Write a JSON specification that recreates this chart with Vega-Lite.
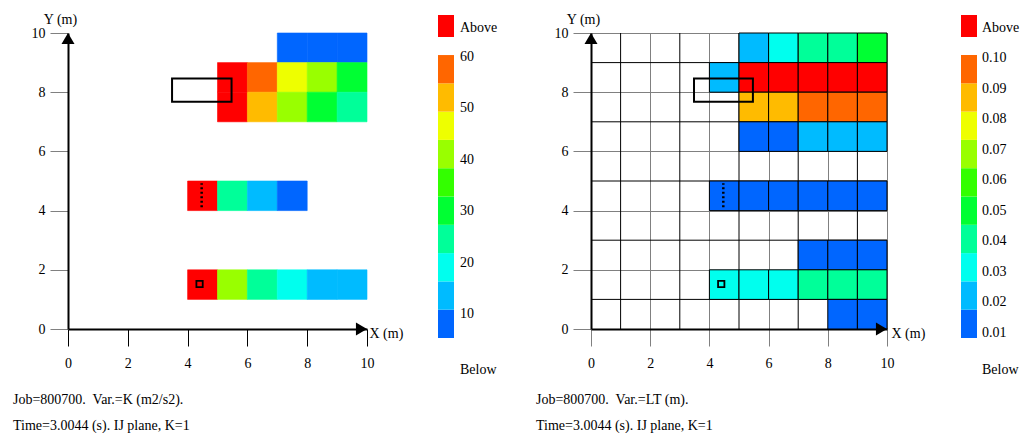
{
  "$schema": "https://vega.github.io/schema/vega-lite/v6.json",
  "padding": {"left": 13, "top": 12, "right": 0, "bottom": 0},
  "bounds": "flush",
  "spacing": 71,
  "resolve": {"scale": {"x": "independent", "y": "independent", "color": "independent", "stroke": "independent", "shape": "independent"}},
  "config": {
    "view": {"stroke": null},
    "font": "Liberation Serif",
    "axis": {"labelFont": "Liberation Serif", "labelFontSize": 14, "labelColor": "black", "titleFont": "Liberation Serif", "titleFontSize": 14, "titleFontWeight": "normal", "titleColor": "black", "labelFlush": false, "domainColor": "black", "domainWidth": 2, "grid": false, "zindex": 1, "titleAngle": 0},
    "text": {"font": "Liberation Serif", "fontSize": 14, "color": "black"},
    "title": {"font": "Liberation Serif", "fontSize": 14, "fontWeight": "normal", "color": "black"}
  },
  "datasets": {
    "cellsK": [
      {"x0": 7, "x1": 8, "y0": 9, "y1": 10, "v": 8.6},
      {"x0": 8, "x1": 9, "y0": 9, "y1": 10, "v": 7.9},
      {"x0": 9, "x1": 10, "y0": 9, "y1": 10, "v": 8.3},
      {"x0": 5, "x1": 6, "y0": 8, "y1": 9, "v": 71.2},
      {"x0": 6, "x1": 7, "y0": 8, "y1": 9, "v": 57.9},
      {"x0": 7, "x1": 8, "y0": 8, "y1": 9, "v": 47.1},
      {"x0": 8, "x1": 9, "y0": 8, "y1": 9, "v": 41.5},
      {"x0": 9, "x1": 10, "y0": 8, "y1": 9, "v": 29.6},
      {"x0": 5, "x1": 6, "y0": 7, "y1": 8, "v": 68.4},
      {"x0": 6, "x1": 7, "y0": 7, "y1": 8, "v": 52.6},
      {"x0": 7, "x1": 8, "y0": 7, "y1": 8, "v": 40.8},
      {"x0": 8, "x1": 9, "y0": 7, "y1": 8, "v": 30.4},
      {"x0": 9, "x1": 10, "y0": 7, "y1": 8, "v": 24.9},
      {"x0": 4, "x1": 5, "y0": 4, "y1": 5, "v": 66.0},
      {"x0": 5, "x1": 6, "y0": 4, "y1": 5, "v": 25.1},
      {"x0": 6, "x1": 7, "y0": 4, "y1": 5, "v": 13.9},
      {"x0": 7, "x1": 8, "y0": 4, "y1": 5, "v": 8.4},
      {"x0": 4, "x1": 5, "y0": 1, "y1": 2, "v": 64.5},
      {"x0": 5, "x1": 6, "y0": 1, "y1": 2, "v": 41.0},
      {"x0": 6, "x1": 7, "y0": 1, "y1": 2, "v": 24.2},
      {"x0": 7, "x1": 8, "y0": 1, "y1": 2, "v": 19.0},
      {"x0": 8, "x1": 9, "y0": 1, "y1": 2, "v": 14.1},
      {"x0": 9, "x1": 10, "y0": 1, "y1": 2, "v": 13.2}
    ],
    "cellsL": [
      {"x0": 5, "x1": 6, "y0": 9, "y1": 10, "v": 0.022},
      {"x0": 6, "x1": 7, "y0": 9, "y1": 10, "v": 0.032},
      {"x0": 7, "x1": 8, "y0": 9, "y1": 10, "v": 0.040},
      {"x0": 8, "x1": 9, "y0": 9, "y1": 10, "v": 0.042},
      {"x0": 9, "x1": 10, "y0": 9, "y1": 10, "v": 0.050},
      {"x0": 4, "x1": 5, "y0": 8, "y1": 9, "v": 0.021},
      {"x0": 5, "x1": 6, "y0": 8, "y1": 9, "v": 0.118},
      {"x0": 6, "x1": 7, "y0": 8, "y1": 9, "v": 0.121},
      {"x0": 7, "x1": 8, "y0": 8, "y1": 9, "v": 0.116},
      {"x0": 8, "x1": 9, "y0": 8, "y1": 9, "v": 0.113},
      {"x0": 9, "x1": 10, "y0": 8, "y1": 9, "v": 0.110},
      {"x0": 5, "x1": 6, "y0": 7, "y1": 8, "v": 0.088},
      {"x0": 6, "x1": 7, "y0": 7, "y1": 8, "v": 0.086},
      {"x0": 7, "x1": 8, "y0": 7, "y1": 8, "v": 0.097},
      {"x0": 8, "x1": 9, "y0": 7, "y1": 8, "v": 0.095},
      {"x0": 9, "x1": 10, "y0": 7, "y1": 8, "v": 0.094},
      {"x0": 5, "x1": 6, "y0": 6, "y1": 7, "v": 0.013},
      {"x0": 6, "x1": 7, "y0": 6, "y1": 7, "v": 0.014},
      {"x0": 7, "x1": 8, "y0": 6, "y1": 7, "v": 0.022},
      {"x0": 8, "x1": 9, "y0": 6, "y1": 7, "v": 0.023},
      {"x0": 9, "x1": 10, "y0": 6, "y1": 7, "v": 0.021},
      {"x0": 4, "x1": 5, "y0": 4, "y1": 5, "v": 0.012},
      {"x0": 5, "x1": 6, "y0": 4, "y1": 5, "v": 0.013},
      {"x0": 6, "x1": 7, "y0": 4, "y1": 5, "v": 0.012},
      {"x0": 7, "x1": 8, "y0": 4, "y1": 5, "v": 0.014},
      {"x0": 8, "x1": 9, "y0": 4, "y1": 5, "v": 0.013},
      {"x0": 9, "x1": 10, "y0": 4, "y1": 5, "v": 0.012},
      {"x0": 7, "x1": 8, "y0": 2, "y1": 3, "v": 0.014},
      {"x0": 8, "x1": 9, "y0": 2, "y1": 3, "v": 0.013},
      {"x0": 9, "x1": 10, "y0": 2, "y1": 3, "v": 0.012},
      {"x0": 4, "x1": 5, "y0": 1, "y1": 2, "v": 0.031},
      {"x0": 5, "x1": 6, "y0": 1, "y1": 2, "v": 0.030},
      {"x0": 6, "x1": 7, "y0": 1, "y1": 2, "v": 0.032},
      {"x0": 7, "x1": 8, "y0": 1, "y1": 2, "v": 0.041},
      {"x0": 8, "x1": 9, "y0": 1, "y1": 2, "v": 0.040},
      {"x0": 9, "x1": 10, "y0": 1, "y1": 2, "v": 0.042},
      {"x0": 8, "x1": 9, "y0": 0, "y1": 1, "v": 0.013},
      {"x0": 9, "x1": 10, "y0": 0, "y1": 1, "v": 0.012}
    ],
    "legK": [
      {"lo": 5.33, "hi": 10.84}, {"lo": 10.84, "hi": 16.34}, {"lo": 16.34, "hi": 21.85}, {"lo": 21.85, "hi": 27.35},
      {"lo": 27.35, "hi": 32.86}, {"lo": 32.86, "hi": 38.36}, {"lo": 38.36, "hi": 43.87}, {"lo": 43.87, "hi": 49.37},
      {"lo": 49.37, "hi": 54.88}, {"lo": 54.88, "hi": 60.38}, {"lo": 63.89, "hi": 68.17}
    ],
    "legKlab": [
      {"v": 10, "t": "10"}, {"v": 20, "t": "20"}, {"v": 30, "t": "30"}, {"v": 40, "t": "40"}, {"v": 50, "t": "50"}, {"v": 60, "t": "60"},
      {"v": 65.6, "t": "Above"}, {"v": -0.9, "t": "Below"}
    ],
    "legL": [
      {"lo": 0.00838, "hi": 0.01764}, {"lo": 0.01764, "hi": 0.0269}, {"lo": 0.0269, "hi": 0.03616}, {"lo": 0.03616, "hi": 0.04542},
      {"lo": 0.04542, "hi": 0.05468}, {"lo": 0.05468, "hi": 0.06394}, {"lo": 0.06394, "hi": 0.0732}, {"lo": 0.0732, "hi": 0.08246},
      {"lo": 0.08246, "hi": 0.09172}, {"lo": 0.09172, "hi": 0.10098}, {"lo": 0.10687, "hi": 0.11407}
    ],
    "legLlab": [
      {"v": 0.01, "t": "0.01"}, {"v": 0.02, "t": "0.02"}, {"v": 0.03, "t": "0.03"}, {"v": 0.04, "t": "0.04"}, {"v": 0.05, "t": "0.05"},
      {"v": 0.06, "t": "0.06"}, {"v": 0.07, "t": "0.07"}, {"v": 0.08, "t": "0.08"}, {"v": 0.09, "t": "0.09"}, {"v": 0.10, "t": "0.10"},
      {"v": 0.10982, "t": "Above"}, {"v": -0.00209, "t": "Below"}
    ],
    "boxes": [{"x0": 3.48, "x1": 5.47, "y0": 7.68, "y1": 8.46}],
    "probeLine": [{"x": 4.47, "y0": 4.11, "y1": 4.92}],
    "probePoint": [{"x": 4.4, "y": 1.52}],
    "arrows": [{"x": 0, "y": 10, "dir": "up"}, {"x": 10, "y": 0, "dir": "right"}],
    "oddLines": [{"p": 1}, {"p": 3}, {"p": 5}, {"p": 7}, {"p": 9}]
  },
  "hconcat": [
    {
      "width": 299,
      "height": 296,
      "title": {"text": ["Job=800700.\u00a0 Var.=K (m2/s2).", "Time=3.0044 (s). IJ plane, K=1"], "orient": "bottom", "anchor": "start", "frame": "group", "dx": -55, "offset": 23, "lineHeight": 26, "fontSize": 14, "fontWeight": "normal", "font": "Liberation Serif", "color": "black", "baseline": "top"},
      "layer": [
        {
          "data": {"name": "cellsK"},
          "mark": {"type": "rect", "strokeWidth": 0.6},
          "encoding": {
            "x": {"field": "x0", "type": "quantitative", "scale": {"domain": [0, 10], "nice": false, "zero": false},
                  "axis": {"values": [0, 2, 4, 6, 8, 10], "format": "d", "title": "X (m)", "titleX": 301, "titleY": 4.5, "titleAlign": "left", "titleBaseline": "middle", "labelPadding": 10, "tickSize": 17, "tickColor": "black", "tickWidth": 1}},
            "x2": {"field": "x1"},
            "y": {"field": "y0", "type": "quantitative", "scale": {"domain": [0, 10], "nice": false, "zero": false},
                  "axis": {"values": [0, 2, 4, 6, 8, 10], "format": "d", "title": "Y (m)", "titleX": -8, "titleY": -14, "titleAlign": "center", "titleBaseline": "middle", "labelPadding": 5, "tickSize": 18, "tickColor": "#808080", "tickWidth": 1}},
            "y2": {"field": "y1"},
            "color": {"field": "v", "type": "quantitative", "scale": {"type": "threshold", "domain": [5.33, 10.84, 16.34, 21.85, 27.35, 32.86, 38.36, 43.87, 49.37, 54.88, 60.38], "range": ["#ffffff", "#0066ff", "#00bbff", "#00ffee", "#00ff99", "#00ff33", "#33ff00", "#99ff00", "#eeff00", "#ffbb00", "#ff6600", "#ff0000"]}, "legend": null},
            "stroke": {"field": "v", "type": "quantitative", "scale": {"type": "threshold", "domain": [5.33, 10.84, 16.34, 21.85, 27.35, 32.86, 38.36, 43.87, 49.37, 54.88, 60.38], "range": ["#ffffff", "#0066ff", "#00bbff", "#00ffee", "#00ff99", "#00ff33", "#33ff00", "#99ff00", "#eeff00", "#ffbb00", "#ff6600", "#ff0000"]}, "legend": null}
          }
        },
        {
          "data": {"name": "boxes"},
          "mark": {"type": "rect", "filled": false, "stroke": "black", "strokeWidth": 2},
          "encoding": {"x": {"field": "x0", "type": "quantitative"}, "x2": {"field": "x1"}, "y": {"field": "y0", "type": "quantitative"}, "y2": {"field": "y1"}}
        },
        {
          "data": {"name": "probeLine"},
          "mark": {"type": "rule", "color": "black", "strokeWidth": 2.5, "strokeDash": [2, 2.5]},
          "encoding": {"x": {"field": "x", "type": "quantitative"}, "y": {"field": "y0", "type": "quantitative"}, "y2": {"field": "y1"}}
        },
        {
          "data": {"name": "probePoint"},
          "mark": {"type": "point", "shape": "square", "size": 40, "filled": false, "stroke": "black", "strokeWidth": 1.8, "opacity": 1},
          "encoding": {"x": {"field": "x", "type": "quantitative"}, "y": {"field": "y", "type": "quantitative"}}
        },
        {
          "data": {"name": "arrows"},
          "mark": {"type": "point", "filled": true, "opacity": 1, "size": 169, "color": "black"},
          "encoding": {"x": {"field": "x", "type": "quantitative"}, "y": {"field": "y", "type": "quantitative"},
                       "shape": {"field": "dir", "type": "nominal", "scale": {"domain": ["up", "right"], "range": ["M0,0L1,1.7L-1,1.7Z", "M0,0L-1.7,-1L-1.7,1Z"]}, "legend": null}}
        }
      ]
    },
    {
      "width": 82,
      "height": 305,
      "layer": [
        {
          "data": {"name": "legK"},
          "mark": {"type": "rect"},
          "encoding": {
            "x": {"datum": 0, "type": "quantitative", "scale": {"domain": [0, 5.125], "nice": false, "zero": false}, "axis": null},
            "x2": {"datum": 1},
            "y": {"field": "lo", "type": "quantitative", "scale": {"domain": [5.33, 64.67], "nice": false, "zero": false}, "axis": null},
            "y2": {"field": "hi"},
            "color": {"field": "lo", "type": "quantitative", "scale": {"type": "threshold", "domain": [5.33, 10.84, 16.34, 21.85, 27.35, 32.86, 38.36, 43.87, 49.37, 54.88, 60.38], "range": ["#ffffff", "#0066ff", "#00bbff", "#00ffee", "#00ff99", "#00ff33", "#33ff00", "#99ff00", "#eeff00", "#ffbb00", "#ff6600", "#ff0000"]}, "legend": null}
          }
        },
        {
          "data": {"name": "legKlab"},
          "mark": {"type": "text", "align": "left", "baseline": "middle", "dx": 6},
          "encoding": {"x": {"datum": 1, "type": "quantitative"}, "y": {"field": "v", "type": "quantitative"}, "text": {"field": "t", "type": "nominal"}}
        }
      ]
    },
    {
      "width": 296,
      "height": 296,
      "title": {"text": ["Job=800700.\u00a0 Var.=LT (m).", "Time=3.0044 (s). IJ plane, K=1"], "orient": "bottom", "anchor": "start", "frame": "group", "dx": -55, "offset": 23, "lineHeight": 26, "fontSize": 14, "fontWeight": "normal", "font": "Liberation Serif", "color": "black", "baseline": "top"},
      "layer": [
        {
          "data": {"name": "oddLines"},
          "mark": {"type": "rule", "color": "black", "strokeWidth": 1},
          "encoding": {
            "x": {"field": "p", "type": "quantitative", "scale": {"domain": [0, 10], "nice": false, "zero": false},
                  "axis": {"values": [0, 2, 4, 6, 8, 10], "format": "d", "title": "X (m)", "titleX": 300, "titleY": 4.5, "titleAlign": "left", "titleBaseline": "middle", "labelPadding": 10, "tickSize": 17, "tickColor": "#808080", "tickWidth": 1, "grid": true, "gridColor": "#808080", "gridWidth": 1, "gridOpacity": 1}},
            "y": {"datum": 0, "type": "quantitative"},
            "y2": {"datum": 10}
          }
        },
        {
          "data": {"name": "oddLines"},
          "mark": {"type": "rule", "color": "black", "strokeWidth": 1},
          "encoding": {
            "y": {"field": "p", "type": "quantitative", "scale": {"domain": [0, 10], "nice": false, "zero": false},
                  "axis": {"values": [0, 2, 4, 6, 8, 10], "format": "d", "title": "Y (m)", "titleX": -8, "titleY": -14, "titleAlign": "center", "titleBaseline": "middle", "labelPadding": 5, "tickSize": 18, "tickColor": "#808080", "tickWidth": 1, "grid": true, "gridColor": "#808080", "gridWidth": 1, "gridOpacity": 1}},
            "x": {"datum": 0, "type": "quantitative"},
            "x2": {"datum": 10}
          }
        },
        {
          "data": {"name": "cellsL"},
          "mark": {"type": "rect", "stroke": "black", "strokeWidth": 1},
          "encoding": {
            "x": {"field": "x0", "type": "quantitative"},
            "x2": {"field": "x1"},
            "y": {"field": "y0", "type": "quantitative"},
            "y2": {"field": "y1"},
            "color": {"field": "v", "type": "quantitative", "scale": {"type": "threshold", "domain": [0.00838, 0.01764, 0.0269, 0.03616, 0.04542, 0.05468, 0.06394, 0.0732, 0.08246, 0.09172, 0.10098], "range": ["#ffffff", "#0066ff", "#00bbff", "#00ffee", "#00ff99", "#00ff33", "#33ff00", "#99ff00", "#eeff00", "#ffbb00", "#ff6600", "#ff0000"]}, "legend": null}
          }
        },
        {
          "data": {"name": "boxes"},
          "mark": {"type": "rect", "filled": false, "stroke": "black", "strokeWidth": 2},
          "encoding": {"x": {"field": "x0", "type": "quantitative"}, "x2": {"field": "x1"}, "y": {"field": "y0", "type": "quantitative"}, "y2": {"field": "y1"}}
        },
        {
          "data": {"name": "probeLine"},
          "mark": {"type": "rule", "color": "black", "strokeWidth": 2.5, "strokeDash": [2, 2.5]},
          "encoding": {"x": {"field": "x", "type": "quantitative"}, "y": {"field": "y0", "type": "quantitative"}, "y2": {"field": "y1"}}
        },
        {
          "data": {"name": "probePoint"},
          "mark": {"type": "point", "shape": "square", "size": 40, "filled": false, "stroke": "black", "strokeWidth": 1.8, "opacity": 1},
          "encoding": {"x": {"field": "x", "type": "quantitative"}, "y": {"field": "y", "type": "quantitative"}}
        },
        {
          "data": {"name": "arrows"},
          "mark": {"type": "point", "filled": true, "opacity": 1, "size": 169, "color": "black"},
          "encoding": {"x": {"field": "x", "type": "quantitative"}, "y": {"field": "y", "type": "quantitative"},
                       "shape": {"field": "dir", "type": "nominal", "scale": {"domain": ["up", "right"], "range": ["M0,0L1,1.7L-1,1.7Z", "M0,0L-1.7,-1L-1.7,1Z"]}, "legend": null}}
        }
      ]
    },
    {
      "width": 62,
      "height": 305,
      "layer": [
        {
          "data": {"name": "legL"},
          "mark": {"type": "rect"},
          "encoding": {
            "x": {"datum": 0, "type": "quantitative", "scale": {"domain": [-0.1875, 3.6875], "nice": false, "zero": false}, "axis": null},
            "x2": {"datum": 1},
            "y": {"field": "lo", "type": "quantitative", "scale": {"domain": [0.00838, 0.10818], "nice": false, "zero": false}, "axis": null},
            "y2": {"field": "hi"},
            "color": {"field": "lo", "type": "quantitative", "scale": {"type": "threshold", "domain": [0.00838, 0.01764, 0.0269, 0.03616, 0.04542, 0.05468, 0.06394, 0.0732, 0.08246, 0.09172, 0.10098], "range": ["#ffffff", "#0066ff", "#00bbff", "#00ffee", "#00ff99", "#00ff33", "#33ff00", "#99ff00", "#eeff00", "#ffbb00", "#ff6600", "#ff0000"]}, "legend": null}
          }
        },
        {
          "data": {"name": "legLlab"},
          "mark": {"type": "text", "align": "left", "baseline": "middle", "dx": 5},
          "encoding": {"x": {"datum": 1, "type": "quantitative"}, "y": {"field": "v", "type": "quantitative"}, "text": {"field": "t", "type": "nominal"}}
        }
      ]
    }
  ]
}
